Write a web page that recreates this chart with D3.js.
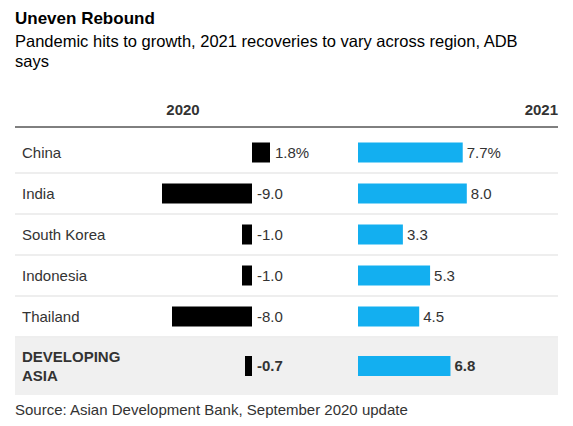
<!DOCTYPE html><html><head><meta charset="utf-8"><script src="https://cdn.jsdelivr.net/npm/d3@7"></script>
<style>body{margin:0;background:#fff;font-family:"Liberation Sans",Arial,sans-serif}</style></head><body><svg id="c" width="573" height="426"></svg>
<script>
const categories=["China","India","South Korea","Indonesia","Thailand","DEVELOPING ASIA"];
const values2020=[1.8,-9.0,-1.0,-1.0,-8.0,-0.7];
const values2021=[7.7,8.0,3.3,5.3,4.5,6.8];
const labels2020=["1.8%","-9.0","-1.0","-1.0","-8.0","-0.7"];
const labels2021=["7.7%","8.0","3.3","5.3","4.5","6.8"];
const svg=d3.select("#c");
svg.append("text").attr("x",15).attr("y",24).attr("font-size",17).attr("font-weight","bold").attr("fill","#000").text("Uneven Rebound");
svg.append("text").attr("x",15).attr("y",47).attr("font-size",16.5).attr("fill","#000").text("Pandemic hits to growth, 2021 recoveries to vary across region, ADB");
svg.append("text").attr("x",15).attr("y",67).attr("font-size",16.5).attr("fill","#000").text("says");
svg.append("text").attr("x",183).attr("y",115).attr("text-anchor","middle").attr("font-size",15).attr("font-weight","bold").attr("fill","#333").text("2020");
svg.append("text").attr("x",558).attr("y",115).attr("text-anchor","end").attr("font-size",15).attr("font-weight","bold").attr("fill","#333").text("2021");
svg.append("line").attr("x1",15).attr("x2",558).attr("y1",127).attr("y2",127).attr("stroke","#000");
const y=d3.scaleBand().domain(categories.slice(0,5)).range([132,337]);
const x1=d3.scaleLinear().domain([0,1]).range([252,262]);
const x2=d3.scaleLinear().domain([0,1]).range([358,371.6]);
const bh=20;
categories.forEach((c,i)=>{
  const last=i===categories.length-1;
  const y0=last?337:y(c), h=last?58:y.bandwidth(), yc=y0+h/2;
  if(last) svg.append("rect").attr("x",15).attr("y",y0+1).attr("width",543).attr("height",h-1).attr("fill","#f0f0f0");
  else svg.append("line").attr("x1",15).attr("x2",558).attr("y1",y0+h).attr("y2",y0+h).attr("stroke","#ddd");
  const fw=last?"bold":"normal";
  if(last){
    svg.append("text").attr("x",22).attr("y",yc-4).attr("font-size",15).attr("font-weight","bold").attr("fill","#333").text("DEVELOPING");
    svg.append("text").attr("x",22).attr("y",yc+15).attr("font-size",15).attr("font-weight","bold").attr("fill","#333").text("ASIA");
  } else svg.append("text").attr("x",22).attr("y",yc+5).attr("font-size",15).attr("fill","#333").text(c);
  const v=values2020[i];
  svg.append("rect").attr("x",Math.min(x1(0),x1(v))).attr("y",yc-bh/2).attr("width",Math.abs(x1(v)-x1(0))).attr("height",bh).attr("fill","#000");
  svg.append("text").attr("x",(v>0?x1(v):x1(0))+5).attr("y",yc+5).attr("font-size",15).attr("font-weight",fw).attr("fill","#333").text(labels2020[i]);
  const w=values2021[i];
  svg.append("rect").attr("x",x2(0)).attr("y",yc-bh/2).attr("width",x2(w)-x2(0)).attr("height",bh).attr("fill","#13aff0");
  svg.append("text").attr("x",x2(w)+4).attr("y",yc+5).attr("font-size",15).attr("font-weight",fw).attr("fill","#333").text(labels2021[i]);
});
svg.append("text").attr("x",15).attr("y",415).attr("font-size",15).attr("fill","#333").text("Source: Asian Development Bank, September 2020 update");
</script></body></html>
